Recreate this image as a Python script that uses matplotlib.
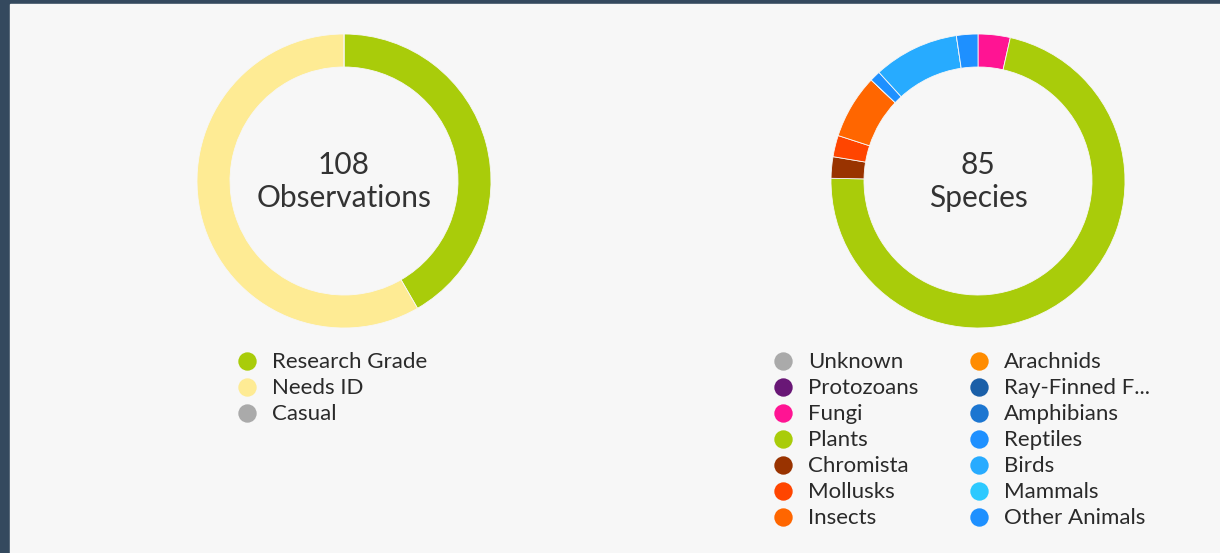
import matplotlib
matplotlib.use('Agg')
from matplotlib import pyplot as plt

W, H = 1220, 553

# quality grade donut
grade_labels = ['Research Grade', 'Needs ID', 'Casual']
grade_values = [45, 63, 0]
grade_colors = ['#a9cc0a', '#feeb94', '#aaaaaa']
total_obs = 108

# iconic taxa donut
taxa_labels = ['Unknown', 'Protozoans', 'Fungi', 'Plants', 'Chromista', 'Mollusks', 'Insects',
               'Arachnids', 'Ray-Finned F...', 'Amphibians', 'Reptiles', 'Birds', 'Mammals', 'Other Animals']
taxa_values = [0, 0, 3, 61, 2, 2, 6, 0, 0, 0, 1, 8, 0, 2]
taxa_colors = ['#aaaaaa', '#691776', '#ff1493', '#a9cc0a', '#993300', '#ff4500', '#ff6600',
               '#ff8c00', '#1a5fa8', '#1c76d1', '#1e90ff', '#27abff', '#2cc9ff', '#1e90ff']
total_species = 85

plt.rcParams['font.family'] = ['Lato', 'DejaVu Sans']

fig = plt.figure(figsize=(W / 100, H / 100), dpi=100)
fig.patch.set_facecolor('#34495e')
ax = fig.add_axes([10 / W, 0, 1 - 10 / W, 1 - 4 / H])
ax.set_facecolor('#f7f7f7')


def fy(y):
    return H - y


def donut(cx, cy, values, colors, big, small):
    ax.pie(values, colors=colors, center=(cx, fy(cy)), radius=147, startangle=90,
           counterclock=False, wedgeprops=dict(width=33, linewidth=0.6, edgecolor='#f7f7f7'),
           frame=True)
    ax.text(cx, fy(165), big, ha='center', va='center', fontsize=21.5, color='#333333')
    ax.text(cx, fy(198), small, ha='center', va='center', fontsize=21.5, color='#333333')


donut(344, 181, grade_values, grade_colors, str(total_obs), 'Observations')
donut(978, 181, taxa_values, taxa_colors, str(total_species), 'Species')
ax.set_xlim(10, W)
ax.set_ylim(0, H - 4)
ax.set_aspect('equal')
ax.axis('off')
fig.patches.append(plt.Rectangle((10 / W, 0), 1, 1 - 4 / H, transform=fig.transFigure,
                                 color='#f7f7f7', zorder=-10))


def legend(x0, labels, colors, per_col, col_gap):
    for i, (lab, col) in enumerate(zip(labels, colors)):
        c, r = divmod(i, per_col)
        x = x0 + c * col_gap
        y = 361 + r * 26
        ax.scatter([x], [fy(y)], s=175, color=col, zorder=5, linewidths=0)
        ax.text(x + 25, fy(y + 1.5), lab, ha='left', va='center', fontsize=16, color='#2a2a2a')


legend(247, grade_labels, grade_colors, 3, 0)
legend(783, taxa_labels, taxa_colors, 7, 196)

fig.savefig('out.png', dpi=100, facecolor=fig.get_facecolor())
